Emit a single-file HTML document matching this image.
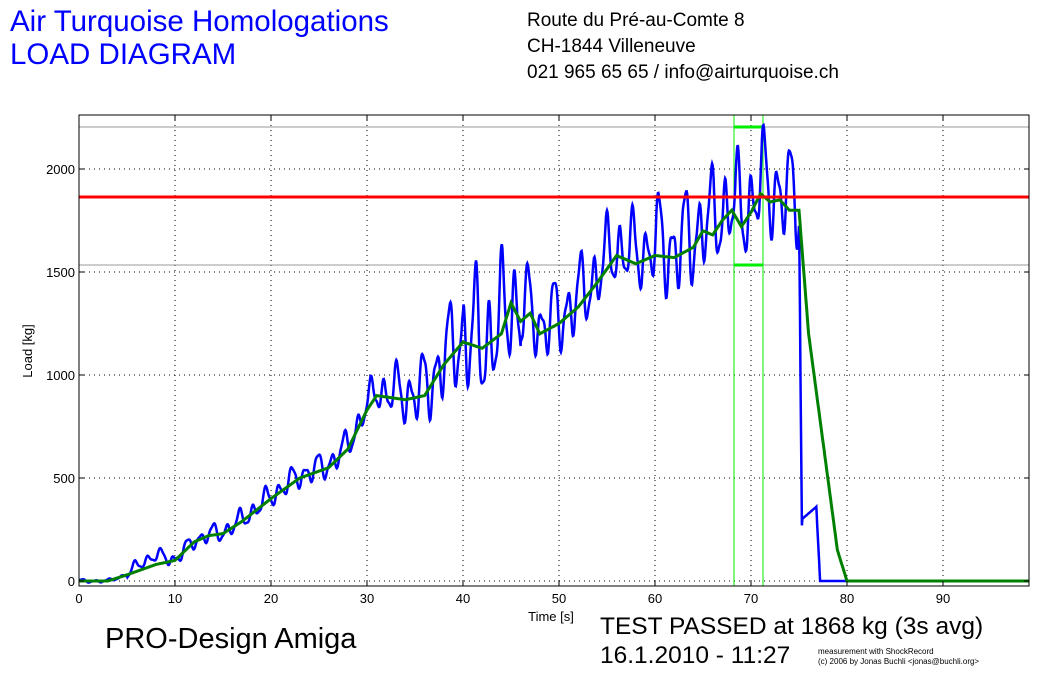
<!DOCTYPE html>
<html><head><meta charset="utf-8"><style>
body{margin:0;background:#fff;width:1055px;height:674px;overflow:hidden;font-family:"Liberation Sans",sans-serif;position:relative}
.t{position:absolute;white-space:nowrap;z-index:2}
</style></head><body>
<svg id="s" width="1055" height="674" style="position:absolute;left:0;top:0" font-family="Liberation Sans, sans-serif"></svg>
<div class="t" style="left:10px;top:5px;font-size:29.5px;color:#0000ff;line-height:33px">Air Turquoise Homologations<br>LOAD DIAGRAM</div>
<div class="t" style="left:527px;top:8px;font-size:19px;line-height:26px;color:#000">Route du Pré-au-Comte 8<br>CH-1844 Villeneuve<br>021 965 65 65 / info@airturquoise.ch</div>
<div class="t" style="left:105px;top:623px;font-size:29px">PRO-Design Amiga</div>
<div class="t" style="left:600px;top:612px;font-size:24.5px;line-height:29px">TEST PASSED at 1868 kg (3s avg)<br>16.1.2010 - 11:27</div>
<div class="t" style="left:818px;top:647px;font-size:8px;line-height:10px">measurement with ShockRecord<br>(c) 2006 by Jonas Buchli &lt;jonas@buchli.org&gt;</div>
<script>
var L=79,R=1029,T=115,B=586,X=t=>L+t*9.6,Y=k=>581-k*0.206;
var h='<defs><clipPath id="c"><rect x="'+L+'" y="'+T+'" width="'+(R-L)+'" height="'+(B-T)+'"/></clipPath></defs>';
for(var t=10;t<=90;t+=10)h+='<line x1="'+X(t)+'" y1="'+T+'" x2="'+X(t)+'" y2="'+B+'" stroke="#000" stroke-dasharray="1,4"/>';
for(var k=0;k<=2000;k+=500)h+='<line x1="'+L+'" y1="'+Y(k)+'" x2="'+R+'" y2="'+Y(k)+'" stroke="#000" stroke-dasharray="1,4"/>';
h+='<line x1="'+L+'" y1="127" x2="'+R+'" y2="127" stroke="#999"/><line x1="'+L+'" y1="265" x2="'+R+'" y2="265" stroke="#999"/>';
h+='<line x1="734" y1="'+T+'" x2="734" y2="'+B+'" stroke="#00ee00"/><line x1="763" y1="'+T+'" x2="763" y2="'+B+'" stroke="#00ee00"/>';
h+='<line x1="734" y1="127" x2="763" y2="127" stroke="#00ee00" stroke-width="3"/><line x1="734" y1="265" x2="763" y2="265" stroke="#00ee00" stroke-width="3"/>';
var g=[[0,0],[3,0],[5,30],[8,80],[10,100],[12,190],[13.5,220],[15,230],[17,290],[20,400],[23,500],[26,550],[28,640],[30,830],[31,900],[34,880],[36,900],[38,1050],[40,1160],[42,1130],[44,1200],[45,1350],[46,1260],[47,1300],[48,1200],[50,1250],[52,1330],[54,1450],[56,1580],[58,1540],[60,1580],[62,1570],[64,1620],[65,1700],[66,1680],[67,1750],[68,1800],[69,1720],[70,1790],[71,1880],[72,1840],[73,1850],[74,1800],[75,1800],[76,1200],[78,500],[79,150],[80,0],[99,0]];
function gi(t){for(var i=1;i<g.length;i++)if(t<=g[i][0]){var a=g[i-1],b=g[i];return a[1]+(b[1]-a[1])*(t-a[0])/(b[0]-a[0]);}return 0;}
var gp='',bp='';
for(var t=0;t<=99;t+=0.1){gp+=(t?'L':'M')+X(t).toFixed(1)+','+Y(gi(t)).toFixed(1);}
function amp(t){if(t<5)return 10;if(t<30)return 20+t*2.5;if(t<40)return 100+(t-30)*20;if(t<46)return 380;if(t<60)return 230;if(t<75)return 300;return 0;}
for(var t=0;t<=99;t+=0.05){var v;
if(t<75)v=gi(t)*1.03+amp(t)*(0.6*Math.sin(t*4.6)+0.3*Math.sin(t*2.3+1)+0.15*Math.sin(t*9.7+2))+(t>5&&t<10?40*Math.sin((t-5)/5*3.14):0);
else if(t<75.3)v=1800-(t-75)/0.3*1530;else if(t<76.8)v=300+(t-75.3)*40;else if(t<77.2)v=360-(t-76.8)*900;else v=0;
v=Math.max(-10,Math.min(2300,v));
bp+=(t?'L':'M')+X(t).toFixed(1)+','+Y(v).toFixed(1);}
h+='<g clip-path="url(#c)"><path d="'+bp+'" fill="none" stroke="#0000ff" stroke-width="2.5"/>';
h+='<path d="'+gp+'" fill="none" stroke="#008000" stroke-width="3"/></g>';
h+='<line x1="'+L+'" y1="197" x2="'+R+'" y2="197" stroke="#ff0000" stroke-width="3"/>';
h+='<rect x="'+L+'" y="'+T+'" width="'+(R-L)+'" height="'+(B-T)+'" fill="none" stroke="#000"/>';
for(var t=0;t<=90;t+=10){h+='<line x1="'+X(t)+'" y1="'+T+'" x2="'+X(t)+'" y2="'+(T+5)+'" stroke="#000"/><line x1="'+X(t)+'" y1="'+B+'" x2="'+X(t)+'" y2="'+(B-5)+'" stroke="#000"/>';
h+='<text x="'+X(t)+'" y="'+(B+17)+'" font-size="13" text-anchor="middle">'+t+'</text>';}
for(var k=0;k<=2000;k+=500){h+='<line x1="'+L+'" y1="'+Y(k)+'" x2="'+(L+5)+'" y2="'+Y(k)+'" stroke="#000"/><line x1="'+R+'" y1="'+Y(k)+'" x2="'+(R-5)+'" y2="'+Y(k)+'" stroke="#000"/>';
h+='<text x="'+(L-4)+'" y="'+(Y(k)+5)+'" font-size="13" text-anchor="end">'+k+'</text>';}
h+='<text x="551" y="621" font-size="13" text-anchor="middle">Time [s]</text>';
h+='<text transform="translate(32,351) rotate(-90)" font-size="13" text-anchor="middle">Load [kg]</text>';
document.getElementById('s').innerHTML=h;
</script>
</body></html>
